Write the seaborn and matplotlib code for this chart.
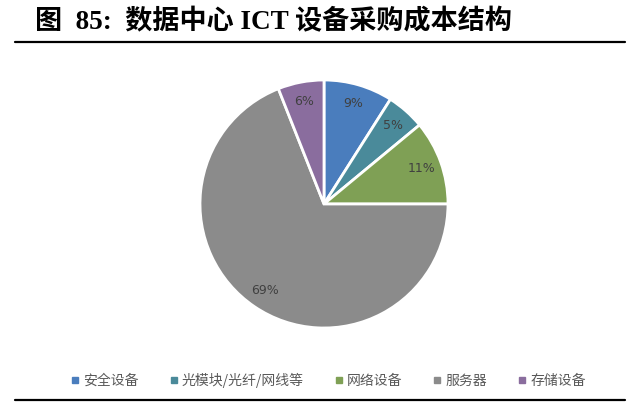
"""Pie chart: 数据中心 ICT 设备采购成本结构 (图 85)."""

import matplotlib

matplotlib.use("Agg")

import matplotlib.pyplot as plt
import seaborn as sns
from matplotlib.lines import Line2D

categories = ["安全设备", "光模块/光纤/网线等", "网络设备", "服务器", "存储设备"]
shares = [9, 5, 11, 69, 6]
colors = ["#4a7dbd", "#4a8a9a", "#7fa055", "#8b8b8b", "#8a6d9e"]

TITLE = "图  85:  数据中心 ICT 设备采购成本结构"

sns.set_theme(style="white")
plt.rcParams["font.family"] = ["Noto Sans CJK SC", "DejaVu Sans"]

W, H = 640, 404
fig = plt.figure(figsize=(W / 100, H / 100), dpi=100)
fig.patch.set_facecolor("white")

# pie: centre ~ (324, 204) px, radius ~ 124 px
cx, cy, r = 324, 204, 124
ax = fig.add_axes([(cx - r) / W, (H - cy - r) / H, 2 * r / W, 2 * r / H])
wedges, texts = ax.pie(
    shares,
    colors=colors,
    startangle=90,
    counterclock=False,
    labels=[f"{v}%" for v in shares],
    labeldistance=0.84,
    wedgeprops={"edgecolor": "white", "linewidth": 2},
    textprops={"fontsize": 9, "color": "#404040", "family": ["DejaVu Sans"]},
)
for t in texts:
    t.set_horizontalalignment("center")
    t.set_verticalalignment("center")
ax.set_xlim(-1.0, 1.0)
ax.set_ylim(-1.0, 1.0)
ax.set_aspect("equal")
ax.axis("off")

# title and rules
fig.text(
    35 / W,
    1 - 22 / H,
    TITLE,
    fontsize=19.5,
    fontweight="bold",
    family=["Liberation Serif", "Noto Sans CJK SC"],
    va="center",
    ha="left",
    color="black",
)
fig.add_artist(Line2D([15 / W, 625 / W], [1 - 42 / H] * 2, color="black", lw=1.6))
fig.add_artist(Line2D([15 / W, 625 / W], [4 / H] * 2, color="black", lw=1.6))

handles = [
    Line2D([], [], marker="s", ls="", markersize=4, color=c, label=lab)
    for c, lab in zip(colors, categories)
]
fig.legend(
    handles=handles,
    loc="center",
    bbox_to_anchor=(0.513, 1 - 380 / H),
    ncol=5,
    frameon=False,
    fontsize=10,
    labelcolor="#595959",
    handlelength=0.6,
    handletextpad=0.3,
    columnspacing=2.2,
)

fig.savefig("out.png", dpi=100, facecolor="white")
